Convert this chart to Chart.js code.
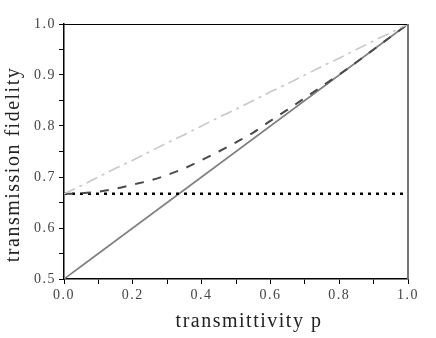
<!DOCTYPE html>
<html><head><meta charset="utf-8">
<script src="https://cdn.jsdelivr.net/npm/chart.js@4/dist/chart.umd.min.js"></script>
<style>html,body{margin:0;padding:0;background:#fff}#wrap{width:436px;height:338px}</style>
</head><body><div id="wrap"><canvas id="c" width="436" height="338"></canvas></div>
<script>
const pValues = [0,0.05,0.1,0.15,0.2,0.25,0.3,0.35,0.4,0.45,0.5,0.55,0.6,0.65,0.7,0.75,0.8,0.85,0.9,0.95,1.0];
const solidLine = [0.5,0.525,0.55,0.575,0.6,0.625,0.65,0.675,0.7,0.725,0.75,0.775,0.8,0.825,0.85,0.875,0.9,0.925,0.95,0.975,1.0];
const dashedCurve = [0.667,0.668,0.671,0.677,0.685,0.693,0.704,0.717,0.733,0.750,0.768,0.787,0.810,0.832,0.855,0.878,0.901,0.925,0.950,0.975,1.0];
const dashDotLine = [0.667,0.683,0.700,0.717,0.733,0.750,0.767,0.783,0.800,0.817,0.833,0.850,0.867,0.883,0.900,0.917,0.933,0.950,0.967,0.983,1.0];
const dottedLine = [0.667,0.667,0.667,0.667,0.667,0.667,0.667,0.667,0.667,0.667,0.667,0.667,0.667,0.667,0.667,0.667,0.667,0.667,0.667,0.667,0.667];
const xTickLabels = ['0.0','0.2','0.4','0.6','0.8','1.0'];
const yTickLabels = ['0.5','0.6','0.7','0.8','0.9','1.0'];

const pts = arr => pValues.map((p,i)=>({x:p,y:arr[i]}));
const fmt = (v, labels) => { const s = v.toFixed(1); return (Math.abs(v*10-Math.round(v*10))<1e-6 && labels.includes(s)) ? s : ''; };

const framePlugin = {
  id:'frame',
  beforeDraw(chart){ chart.ctx.letterSpacing='1.5px'; },
  afterDraw(chart){
    const {ctx, chartArea:a} = chart;
    ctx.save();
    ctx.strokeStyle='#000'; ctx.lineWidth=1;
    ctx.beginPath(); ctx.moveTo(a.left,a.top+0.5); ctx.lineTo(a.right,a.top+0.5); ctx.stroke();
    ctx.strokeStyle='#777'; ctx.lineWidth=2;
    ctx.beginPath(); ctx.moveTo(a.right,a.top); ctx.lineTo(a.right,a.bottom); ctx.stroke();
    ctx.restore();
  }
};

new Chart(document.getElementById('c'), {
  type:'line',
  data:{ datasets:[
    {data:pts(dashDotLine), borderColor:'#c8c8c8', borderWidth:1.6, borderDash:[12,5,3,5], pointRadius:0, tension:0},
    {data:pts(dashedCurve), borderColor:'#4a4a4a', borderWidth:2, borderDash:[9,9], pointRadius:0, tension:0.4, cubicInterpolationMode:'monotone'},
    {data:pts(dottedLine), borderColor:'#000', borderWidth:2.5, borderDash:[3,5], pointRadius:0, tension:0},
    {data:pts(solidLine), borderColor:'#808080', borderWidth:1.6, pointRadius:0, tension:0}
  ]},
  options:{
    responsive:false, animation:false, devicePixelRatio:1,
    layout:{padding:{top:24,right:28,left:0,bottom:0}},
    plugins:{legend:{display:false}, tooltip:{enabled:false}},
    scales:{
      x:{type:'linear', min:0, max:1,
        afterFit(s){ s.height=59; },
        ticks:{stepSize:0.1, autoSkip:false, maxRotation:0, padding:3, color:'#444', font:{family:'Liberation Serif', size:14},
          callback:v=>fmt(v,xTickLabels)},
        grid:{drawOnChartArea:false, tickLength:5, color:'#000', lineWidth:1},
        border:{color:'#000', width:1.5},
        title:{display:true, text:'    transmittivity p', color:'#222', font:{family:'Liberation Serif', size:20}, padding:{top:4,bottom:4}}
      },
      y:{type:'linear', min:0.5, max:1,
        afterFit(s){ s.width=64; },
        ticks:{stepSize:0.05, autoSkip:false, padding:3, color:'#444', font:{family:'Liberation Serif', size:14},
          callback:v=>fmt(v,yTickLabels)},
        grid:{drawOnChartArea:false, tickLength:5, color:'#000', lineWidth:1},
        border:{color:'#000', width:1.5},
        title:{display:true, text:'transmission fidelity    ', color:'#222', font:{family:'Liberation Serif', size:20}, padding:{top:2,bottom:2}}
      }
    }
  },
  plugins:[framePlugin]
});
</script></body></html>
